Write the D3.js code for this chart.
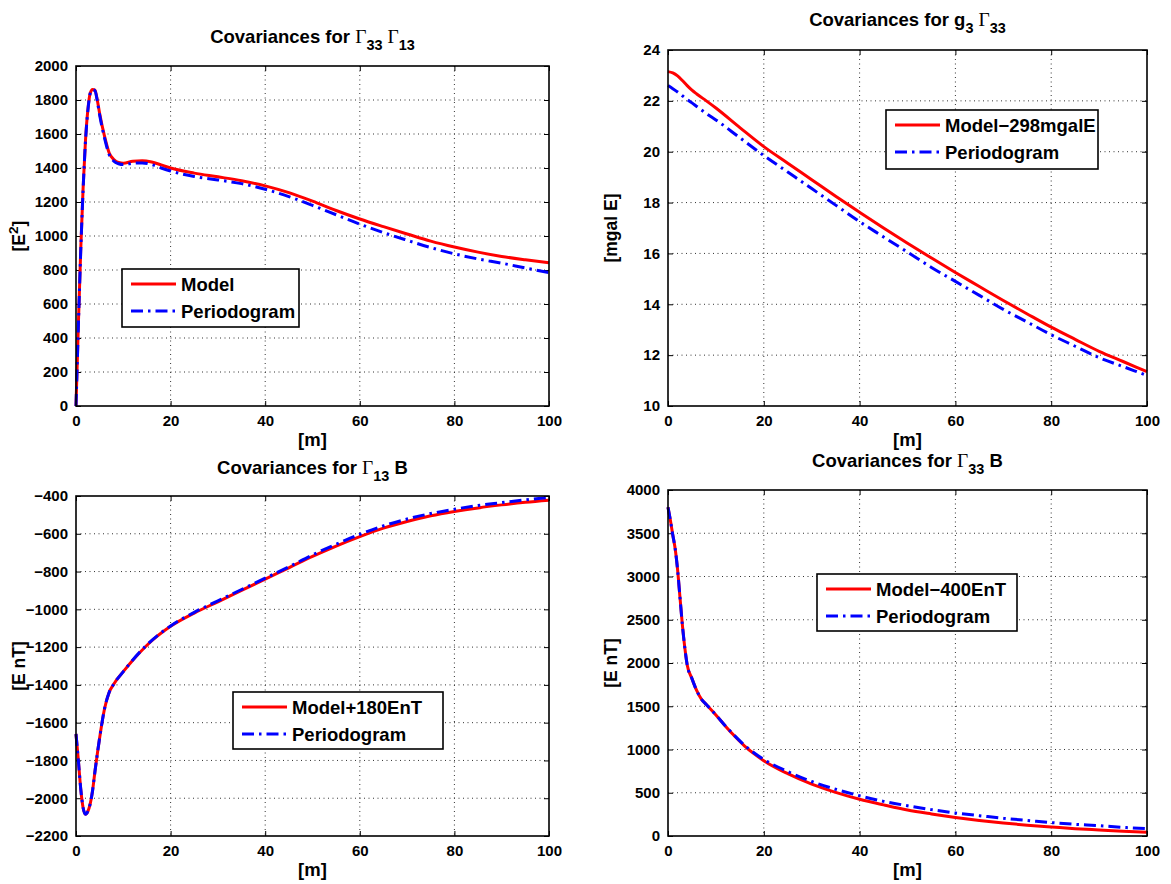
<!DOCTYPE html>
<html>
<head>
<meta charset="utf-8">
<script src="https://cdn.jsdelivr.net/npm/d3@7"></script>
<style>
  body { margin: 0; background: #fff; }
  svg { display: block; font-family: "Liberation Sans", Arial, Helvetica, sans-serif; }
</style>
</head>
<body>
<div id="chart"></div>
<script>
// ---- data ----
const xTicks = [0, 20, 40, 60, 80, 100]

const p1X = [0, 0.5, 1, 1.5, 2, 2.5, 3, 3.5, 4, 4.5, 5, 6, 7, 8, 9, 10, 12, 14, 16, 18, 20, 25, 30, 35, 40, 45, 50, 55, 60, 65, 70, 75, 80, 85, 90, 95, 100]
const p1Model = [0, 480, 920, 1280, 1560, 1740, 1840, 1862, 1858, 1800, 1720, 1590, 1490, 1450, 1432, 1428, 1440, 1443, 1435, 1418, 1400, 1370, 1348, 1325, 1295, 1255, 1205, 1150, 1100, 1055, 1012, 970, 935, 905, 880, 860, 842]
const p1Period = [0, 470, 910, 1270, 1555, 1735, 1838, 1860, 1855, 1795, 1712, 1580, 1480, 1440, 1425, 1420, 1428, 1430, 1420, 1400, 1382, 1350, 1330, 1308, 1275, 1232, 1180, 1125, 1070, 1020, 975, 932, 895, 865, 840, 812, 785]
const p1YTicks = [0, 200, 400, 600, 800, 1000, 1200, 1400, 1600, 1800, 2000]

const p2X = [0, 1, 2, 3, 4, 5, 6, 8, 10, 15, 20, 25, 30, 35, 40, 45, 50, 55, 60, 65, 70, 75, 80, 85, 90, 95, 100]
const p2Model = [23.15, 23.1, 22.98, 22.8, 22.6, 22.42, 22.27, 22.0, 21.72, 20.95, 20.2, 19.55, 18.9, 18.25, 17.62, 17.0, 16.4, 15.82, 15.25, 14.7, 14.15, 13.62, 13.1, 12.62, 12.15, 11.75, 11.35]
const p2Period = [22.6, 22.48, 22.35, 22.2, 22.05, 21.92, 21.78, 21.5, 21.25, 20.55, 19.85, 19.2, 18.55, 17.9, 17.25, 16.65, 16.05, 15.45, 14.9, 14.35, 13.8, 13.3, 12.8, 12.35, 11.9, 11.55, 11.2]
const p2YTicks = [10, 12, 14, 16, 18, 20, 22, 24]

const p3X = [0, 0.5, 1, 1.5, 2, 2.5, 3, 3.5, 4, 5, 6, 7, 8, 10, 12, 15, 20, 25, 30, 35, 40, 45, 50, 55, 60, 65, 70, 75, 80, 85, 90, 95, 100]
const p3Model = [-1660, -1800, -1950, -2050, -2085, -2070, -2030, -1960, -1860, -1680, -1530, -1440, -1395, -1330, -1270, -1190, -1090, -1020, -960, -900, -840, -780, -720, -665, -615, -570, -535, -505, -482, -463, -447, -433, -422]
const p3Period = [-1660, -1800, -1950, -2050, -2085, -2070, -2030, -1960, -1860, -1680, -1530, -1440, -1395, -1330, -1268, -1188, -1088, -1016, -955, -895, -835, -775, -712, -655, -603, -558, -522, -493, -470, -450, -435, -420, -408]
const p3YTicks = [-2200, -2000, -1800, -1600, -1400, -1200, -1000, -800, -600, -400]

const p4X = [0, 0.5, 1, 1.5, 2, 2.5, 3, 3.5, 4, 5, 6, 7, 8, 10, 12, 14, 16, 18, 20, 25, 30, 35, 40, 45, 50, 55, 60, 65, 70, 75, 80, 85, 90, 95, 100]
const p4Model = [3800, 3650, 3480, 3320, 3080, 2760, 2440, 2180, 1980, 1820, 1680, 1580, 1520, 1400, 1270, 1150, 1040, 950, 870, 720, 600, 505, 425, 360, 300, 255, 215, 180, 150, 125, 105, 85, 70, 55, 42]
const p4Period = [3800, 3650, 3480, 3320, 3080, 2760, 2440, 2180, 1980, 1820, 1680, 1580, 1520, 1400, 1272, 1155, 1048, 960, 885, 745, 630, 540, 465, 400, 350, 305, 265, 235, 205, 180, 155, 135, 120, 100, 85]
const p4YTicks = [0, 500, 1000, 1500, 2000, 2500, 3000, 3500, 4000]

// ---- layout ----
const width = 1171
const height = 884

const panels = [
  {
    box: {left: 76, right: 549, top: 66, bottom: 406},
    x: p1X, model: p1Model, period: p1Period, yTicks: p1YTicks, yDomain: [0, 2000],
    title: [["Covariances for ", "b"], ["Γ", "g"], ["33", "sub"], [" ", "b"], ["Γ", "g"], ["13", "sub"]],
    titleY: 43,
    yLabel: [["[E", "b"], ["2", "sup"], ["]", "b"]], yLabelX: 25,
    legend: {x: 122, y: 269, w: 177, h: 58, labels: ["Model", "Periodogram"]}
  },
  {
    box: {left: 668, right: 1147, top: 50, bottom: 406},
    x: p2X, model: p2Model, period: p2Period, yTicks: p2YTicks, yDomain: [10, 24],
    title: [["Covariances for g", "b"], ["3", "sub"], [" ", "b"], ["Γ", "g"], ["33", "sub"]],
    titleY: 26,
    yLabel: [["[mgal E]", "b"]], yLabelX: 617,
    legend: {x: 886, y: 110, w: 212, h: 59, labels: ["Model\u2212298mgalE", "Periodogram"]}
  },
  {
    box: {left: 76, right: 549, top: 496, bottom: 836},
    x: p3X, model: p3Model, period: p3Period, yTicks: p3YTicks, yDomain: [-2200, -400],
    title: [["Covariances for ", "b"], ["Γ", "g"], ["13", "sub"], [" B", "b"]],
    titleY: 474,
    yLabel: [["[E nT]", "b"]], yLabelX: 25,
    legend: {x: 233, y: 692, w: 210, h: 57, labels: ["Model+180EnT", "Periodogram"]}
  },
  {
    box: {left: 668, right: 1147, top: 490, bottom: 836},
    x: p4X, model: p4Model, period: p4Period, yTicks: p4YTicks, yDomain: [0, 4000],
    title: [["Covariances for ", "b"], ["Γ", "g"], ["33", "sub"], [" B", "b"]],
    titleY: 467,
    yLabel: [["[E nT]", "b"]], yLabelX: 617,
    legend: {x: 817, y: 574, w: 200, h: 57, labels: ["Model\u2212400EnT", "Periodogram"]}
  }
]

const modelColor = "#ff0000"
const periodColor = "#0000ff"
const dashDot = "12,5,2.5,5"
const fmt = d => String(d).replace("-", "\u2212")

const svg = d3.select("#chart")
  .append("svg")
  .attr("width", width)
  .attr("height", height)

svg.append("rect").attr("width", width).attr("height", height).attr("fill", "#fff")

// text with sub/superscripts and a serif Gamma
function richText(sel, parts, size) {
  let shift = 0
  parts.forEach(([t, kind]) => {
    const ts = sel.append("tspan").text(t)
    let target = 0
    if (kind === "sub") target = size * 0.38
    if (kind === "sup") target = -size * 0.42
    ts.attr("dy", target - shift)
    shift = target
    if (kind === "sub" || kind === "sup") {
      ts.style("font-size", (size * 0.78) + "px")
    }
    if (kind === "g") {
      ts.style("font-family", "'Liberation Serif', 'Times New Roman', serif")
        .style("font-weight", "normal")
        .style("font-size", (size * 1.05) + "px")
    }
  })
}

panels.forEach(p => {
  const {left, right, top, bottom} = p.box

  const x = d3.scaleLinear().domain([0, 100]).range([left, right])
  const y = d3.scaleLinear().domain(p.yDomain).range([bottom, top])

  const g = svg.append("g")

  // grid
  g.append("g")
    .selectAll("line")
    .data(xTicks.slice(1, -1))
    .join("line")
    .attr("x1", d => x(d)).attr("x2", d => x(d))
    .attr("y1", top).attr("y2", bottom)
    .attr("stroke", "#333").attr("stroke-width", 1).attr("stroke-dasharray", "1,3.5")

  g.append("g")
    .selectAll("line")
    .data(p.yTicks.slice(1, -1))
    .join("line")
    .attr("x1", left).attr("x2", right)
    .attr("y1", d => y(d)).attr("y2", d => y(d))
    .attr("stroke", "#333").attr("stroke-width", 1).attr("stroke-dasharray", "1,3.5")

  // axes (ticks pointing inward, MATLAB style)
  const bottomAxis = g.append("g")
    .attr("transform", `translate(0,${bottom})`)
    .call(d3.axisBottom(x).tickValues(xTicks).tickSize(-5).tickPadding(9).tickFormat(fmt))
  const topAxis = g.append("g")
    .attr("transform", `translate(0,${top})`)
    .call(d3.axisTop(x).tickValues(xTicks).tickSize(-5).tickFormat(""))
  const leftAxis = g.append("g")
    .attr("transform", `translate(${left},0)`)
    .call(d3.axisLeft(y).tickValues(p.yTicks).tickSize(-5).tickPadding(8).tickFormat(fmt))
  const rightAxis = g.append("g")
    .attr("transform", `translate(${right},0)`)
    .call(d3.axisRight(y).tickValues(p.yTicks).tickSize(-5).tickFormat(""))

  ;[bottomAxis, topAxis, leftAxis, rightAxis].forEach(a => {
    a.select(".domain").remove()
    a.selectAll(".tick line").attr("stroke", "#000").attr("stroke-width", 1)
    a.selectAll("text")
      .attr("fill", "#000")
      .style("font-size", "15px")
      .style("font-weight", "bold")
      .style("font-family", "'Liberation Sans', Arial, sans-serif")
  })

  // curves
  const line = d3.line()
    .x((d, i) => x(p.x[i]))
    .y(d => y(d))
    .curve(d3.curveMonotoneX)

  g.append("path")
    .datum(p.model)
    .attr("fill", "none")
    .attr("stroke", modelColor)
    .attr("stroke-width", 3)
    .attr("d", line)

  g.append("path")
    .datum(p.period)
    .attr("fill", "none")
    .attr("stroke", periodColor)
    .attr("stroke-width", 3)
    .attr("stroke-dasharray", dashDot)
    .attr("d", line)

  // frame
  g.append("rect")
    .attr("x", left).attr("y", top)
    .attr("width", right - left).attr("height", bottom - top)
    .attr("fill", "none").attr("stroke", "#000").attr("stroke-width", 1.6)

  // title
  const title = g.append("text")
    .attr("x", (left + right) / 2)
    .attr("y", p.titleY)
    .attr("text-anchor", "middle")
    .style("font-size", "18.5px")
    .style("font-weight", "bold")
  richText(title, p.title, 18.5)

  // x label
  g.append("text")
    .attr("x", (left + right) / 2)
    .attr("y", bottom + 40)
    .attr("text-anchor", "middle")
    .style("font-size", "18.5px")
    .style("font-weight", "bold")
    .text("[m]")

  // y label
  const yl = g.append("text")
    .attr("transform", `translate(${p.yLabelX},${(top + bottom) / 2}) rotate(-90)`)
    .attr("text-anchor", "middle")
    .style("font-size", "17.5px")
    .style("font-weight", "bold")
  richText(yl, p.yLabel, 17.5)

  // legend
  const L = p.legend
  const lg = g.append("g").attr("transform", `translate(${L.x},${L.y})`)
  lg.append("rect")
    .attr("width", L.w).attr("height", L.h)
    .attr("fill", "#fff").attr("stroke", "#000").attr("stroke-width", 1.6)
  const rows = [
    {label: L.labels[0], color: modelColor, dash: null},
    {label: L.labels[1], color: periodColor, dash: dashDot}
  ]
  rows.forEach((r, i) => {
    const ry = 15 + i * 27
    lg.append("line")
      .attr("x1", 9).attr("x2", 54)
      .attr("y1", ry).attr("y2", ry)
      .attr("stroke", r.color).attr("stroke-width", 3)
      .attr("stroke-dasharray", r.dash)
    lg.append("text")
      .attr("x", 59).attr("y", ry + 6.5)
      .style("font-size", "18.5px")
      .style("font-weight", "bold")
      .text(r.label)
  })
})
</script>
</body>
</html>
